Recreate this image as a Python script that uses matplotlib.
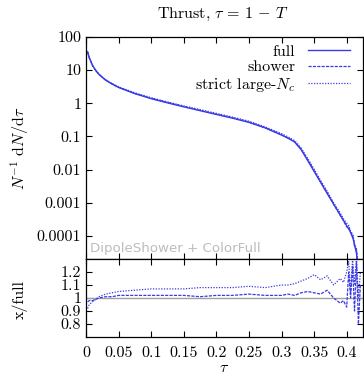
import numpy as np
import matplotlib
matplotlib.use("Agg")
import matplotlib.pyplot as plt
from matplotlib.ticker import FixedLocator, FixedFormatter, LogLocator, NullFormatter

plt.rcParams['font.family'] = 'serif'
plt.rcParams['font.serif'] = ['cmr10', 'DejaVu Serif']
plt.rcParams['mathtext.fontset'] = 'cm'
plt.rcParams['axes.formatter.use_mathtext'] = True

# thrust distribution (full colour)
tau = [0.0025, 0.005, 0.01, 0.015, 0.02, 0.03, 0.04, 0.05, 0.075, 0.1,
       0.125, 0.15, 0.175, 0.2, 0.225, 0.25, 0.275, 0.3, 0.31, 0.32,
       0.33, 0.34, 0.35, 0.36, 0.37, 0.38, 0.39, 0.4, 0.405, 0.41,
       0.415, 0.418]
full = [36, 24, 14, 9.8, 7.4, 5.0, 3.8, 3.0, 1.95, 1.38,
        1.03, 0.78, 0.6, 0.46, 0.355, 0.265, 0.18, 0.11, 0.088, 0.068,
        0.04, 0.019, 0.0088, 0.0041, 0.0019, 0.0009, 0.00043, 0.0002, 0.00014, 0.00008,
        0.00003, 0.000008]

# ratios to full
tau_r = [0.0025, 0.005, 0.01, 0.015, 0.02, 0.03, 0.04, 0.05, 0.075, 0.1,
         0.125, 0.15, 0.175, 0.2, 0.225, 0.25, 0.275, 0.3, 0.31, 0.32,
         0.33, 0.34, 0.35, 0.36, 0.37, 0.38, 0.39, 0.395, 0.4, 0.403,
         0.406, 0.409, 0.412, 0.415, 0.418, 0.421]
shower_r = [0.97, 0.98, 0.98, 0.99, 1.0, 1.01, 1.01, 1.02, 1.02, 1.02,
            1.02, 1.02, 1.01, 1.02, 1.02, 1.03, 1.02, 1.02, 1.03, 1.02,
            1.04, 1.05, 1.04, 1.03, 1.06, 1.0, 0.96, 0.98, 0.93, 1.2,
            1.0, 1.25, 0.9, 1.28, 0.8, 1.1]
strict_r = [0.92, 0.95, 0.97, 0.99, 1.01, 1.03, 1.04, 1.05, 1.06, 1.07,
            1.07, 1.07, 1.08, 1.08, 1.08, 1.09, 1.08, 1.1, 1.1, 1.11,
            1.13, 1.15, 1.18, 1.14, 1.17, 1.1, 1.15, 1.12, 1.2, 1.28,
            1.05, 1.3, 1.1, 1.3, 1.0, 1.2]

ylog_ticks = [1e-4, 1e-3, 1e-2, 0.1, 1, 10, 100]
ylog_labels = ['0.0001', '0.001', '0.01', '0.1', '1', '10', '100']
x_ticks = [0, 0.05, 0.1, 0.15, 0.2, 0.25, 0.3, 0.35, 0.4]
x_labels = ['0', '0.05', '0.1', '0.15', '0.2', '0.25', '0.3', '0.35', '0.4']
r_ticks = [0.8, 0.9, 1.0, 1.1, 1.2]
r_labels = ['0.8', '0.9', '1', '1.1', '1.2']

blue = '#3a3ae6'
fs = 11.5

full_i = np.interp(tau_r, tau, np.log(full))
shower = np.exp(full_i) * np.array(shower_r)
strict = np.exp(full_i) * np.array(strict_r)

fig = plt.figure(figsize=(3.64, 3.77), dpi=100)
ax = fig.add_axes([86/364, 1-259/377, 277/364, 222/377])
axr = fig.add_axes([86/364, 1-337/377, 277/364, 78/377])

ax.plot(tau, full, color=blue, lw=1.0, label='full')
ax.plot(tau_r, shower, color=blue, lw=0.9, ls=(0, (2.5, 1)), label='shower')
ax.plot(tau_r, strict, color=blue, lw=0.9, ls=(0, (1, 1.2)), label='strict large-$N_c$')
ax.set_yscale('log')
ax.set_ylim(2e-5, 100)
ax.set_xlim(0, 0.425)
ax.yaxis.set_major_locator(FixedLocator(ylog_ticks))
ax.yaxis.set_major_formatter(FixedFormatter(ylog_labels))
ax.yaxis.set_minor_locator(LogLocator(base=10, subs=[2, 5]))
ax.yaxis.set_minor_formatter(NullFormatter())
ax.set_xticks(x_ticks)
ax.set_xticklabels([])
ax.tick_params(which='both', direction='in', top=True, right=True, labelsize=fs)
ax.tick_params(which='major', length=4)
ax.tick_params(which='minor', length=2)
ax.text(0.015, 0.02, 'DipoleShower + ColorFull', transform=ax.transAxes,
        family='DejaVu Sans', fontsize=9.6, color='#bdbdbd', ha='left', va='bottom')
ax.legend(loc='upper right', bbox_to_anchor=(0.975, 0.995), frameon=False,
          markerfirst=False, fontsize=fs, handlelength=2.6, labelspacing=0.1,
          borderaxespad=0.0, handletextpad=0.8)

axr.axhline(1.0, color='#a0a0a0', lw=1.0)
axr.plot(tau_r, shower_r, color=blue, lw=0.9, ls=(0, (2.5, 1)))
axr.plot(tau_r, strict_r, color=blue, lw=0.9, ls=(0, (1, 1.2)))
axr.set_xlim(0, 0.425)
axr.set_ylim(0.7, 1.3)
axr.set_yticks(r_ticks)
axr.set_yticklabels(r_labels)
axr.set_xticks(x_ticks)
axr.set_xticklabels(x_labels)
axr.tick_params(which='both', direction='in', top=True, right=True, labelsize=fs, length=4)
axr.tick_params(axis='x', pad=7)

for a in (ax, axr):
    for s in a.spines.values():
        s.set_linewidth(0.9)

fig.text(223/364, 1-14/377, r'Thrust, $\tau\, =\, 1\, -\, T$', ha='center', va='center', fontsize=fs)
fig.text(20/364, 1-148/377, r'$N^{-1}\ \mathrm{d}N/\mathrm{d}\tau$', rotation=90,
         ha='center', va='center', fontsize=fs)
fig.text(20/364, 1-300/377, 'x/full', rotation=90, ha='center', va='center', fontsize=fs)
fig.text(224/364, 1-368/377, r'$\tau$', ha='center', va='center', fontsize=fs)

fig.savefig('out.png', dpi=100)
